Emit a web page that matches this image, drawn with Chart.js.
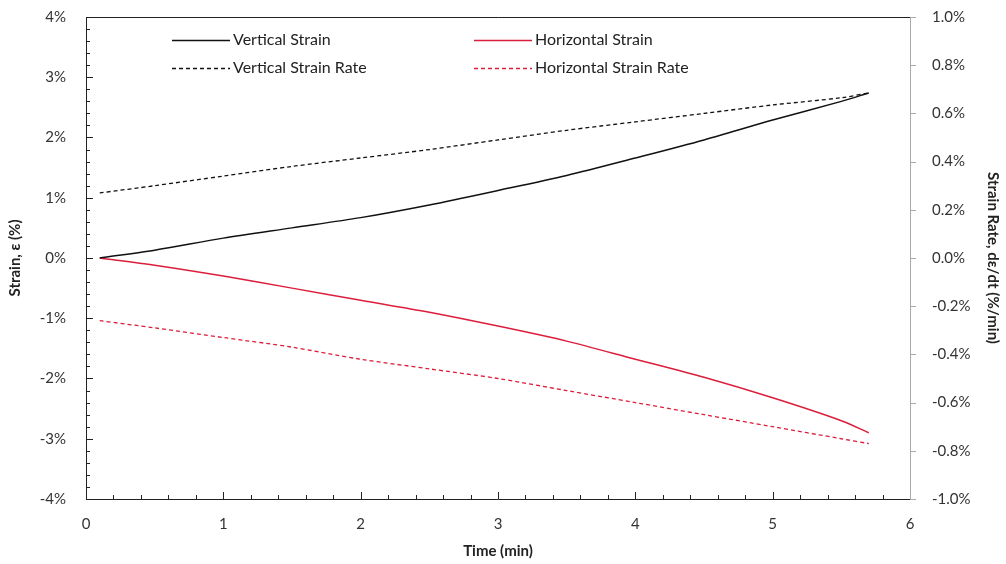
<!DOCTYPE html>
<html>
<head>
<meta charset="utf-8">
<script src="https://cdn.jsdelivr.net/npm/chart.js@4"></script>
<style>
  html, body { margin: 0; padding: 0; background: #fff; }
  #wrap { width: 1006px; height: 564px; }
</style>
</head>
<body>
<div id="wrap"><canvas id="strainChart" width="1006" height="564"></canvas></div>
<script>
// données
const timeMin = [0.1, 0.5, 1, 1.5, 2, 2.5, 3, 3.5, 4, 4.5, 5, 5.5, 5.7];
const verticalStrain = [0, 0.13, 0.33, 0.5, 0.67, 0.88, 1.12, 1.37, 1.66, 1.96, 2.29, 2.6, 2.74];
const horizontalStrain = [0, -0.12, -0.3, -0.5, -0.7, -0.9, -1.13, -1.38, -1.68, -1.98, -2.32, -2.7, -2.9];
const verticalRate = [0.27, 0.30, 0.34, 0.38, 0.415, 0.45, 0.49, 0.53, 0.565, 0.60, 0.635, 0.665, 0.685];
const horizontalRate = [-0.26, -0.29, -0.33, -0.37, -0.42, -0.46, -0.50, -0.55, -0.60, -0.65, -0.70, -0.75, -0.77];
const leftTicks = [-4, -3, -2, -1, 0, 1, 2, 3, 4];
const rightTicks = [-1.0, -0.8, -0.6, -0.4, -0.2, 0.0, 0.2, 0.4, 0.6, 0.8, 1.0];
const timeTicks = [0, 1, 2, 3, 4, 5, 6];

const RED = '#dc1e3c';
const FONT = 'Lato, "Liberation Sans", sans-serif';

const toPoints = (vals) => timeMin.map((t, i) => ({ x: t, y: vals[i] }));

// Cadre, graduations internes et légende dans la zone du graphique
const framePlugin = {
    id: 'frame',
    afterDraw(chart) {
        const ctx = chart.ctx;
        const a = chart.chartArea;
        const x = chart.scales.x, y = chart.scales.y, y2 = chart.scales.y2;
        ctx.save();
        ctx.lineWidth = 1;
        // graduations mineures et majeures (axe gauche, vers l'intérieur)
        ctx.strokeStyle = '#222';
        ctx.beginPath();
        for (let v = -4; v <= 4.001; v += 0.2) {
            const py = Math.round(y.getPixelForValue(v)) + 0.5;
            const major = Math.abs(v - Math.round(v)) < 0.01;
            ctx.moveTo(a.left, py);
            ctx.lineTo(a.left + (major ? 7 : 4), py);
        }
        // axe du temps, graduations vers le haut
        for (let v = 0; v <= 6.001; v += 0.2) {
            const px = Math.round(x.getPixelForValue(v)) + 0.5;
            const major = Math.abs(v - Math.round(v)) < 0.01;
            ctx.moveTo(px, a.bottom);
            ctx.lineTo(px, a.bottom - (major ? 7 : 4));
        }
        ctx.stroke();
        // axe droit, graduations vers l'extérieur
        ctx.strokeStyle = '#aaa';
        ctx.beginPath();
        rightTicks.forEach(v => {
            const py = Math.round(y2.getPixelForValue(v)) + 0.5;
            ctx.moveTo(a.right, py);
            ctx.lineTo(a.right + 6, py);
        });
        ctx.stroke();
        // cadre
        ctx.strokeStyle = '#222';
        ctx.beginPath();
        ctx.moveTo(a.right, a.top + 0.5);
        ctx.lineTo(a.left + 0.5, a.top + 0.5);
        ctx.lineTo(a.left + 0.5, a.bottom + 0.5);
        ctx.lineTo(a.right, a.bottom + 0.5);
        ctx.stroke();
        ctx.strokeStyle = '#aaa';
        ctx.beginPath();
        ctx.moveTo(a.right + 0.5, a.top);
        ctx.lineTo(a.right + 0.5, a.bottom + 1);
        ctx.stroke();

        // légende en deux colonnes
        const spots = [[a.left + 86, a.top + 23], [a.left + 388, a.top + 23], [a.left + 86, a.top + 51], [a.left + 388, a.top + 51]];
        ctx.font = '16px ' + FONT;
        ctx.textBaseline = 'middle';
        ctx.fillStyle = '#222';
        chart.data.datasets.forEach((ds, i) => {
            const [lx, ly] = spots[i];
            ctx.strokeStyle = ds.borderColor;
            ctx.lineWidth = 1.4;
            ctx.setLineDash(ds.borderDash || []);
            ctx.beginPath();
            ctx.moveTo(lx, ly + 0.5);
            ctx.lineTo(lx + 58, ly + 0.5);
            ctx.stroke();
            ctx.setLineDash([]);
            ctx.fillText(ds.label, lx + 61, ly);
        });
        ctx.restore();
    }
};

const ctx1 = document.getElementById('strainChart').getContext('2d');
const strainChart = new Chart(ctx1, {
    type: 'line',
    data: {
        datasets: [
            { label: 'Vertical Strain', data: toPoints(verticalStrain), yAxisID: 'y', borderColor: '#111', borderWidth: 1.5 },
            { label: 'Horizontal Strain', data: toPoints(horizontalStrain), yAxisID: 'y', borderColor: RED, borderWidth: 1.5 },
            { label: 'Vertical Strain Rate', data: toPoints(verticalRate), yAxisID: 'y2', borderColor: '#111', borderWidth: 1.3, borderDash: [4, 3] },
            { label: 'Horizontal Strain Rate', data: toPoints(horizontalRate), yAxisID: 'y2', borderColor: RED, borderWidth: 1.3, borderDash: [4, 3] }
        ]
    },
    options: {
        responsive: false,
        animation: false,
        layout: { padding: { top: 17, left: 0, right: 0, bottom: 0 } },
        elements: { point: { radius: 0 }, line: { tension: 0.3 } },
        plugins: { legend: { display: false }, tooltip: { enabled: false } },
        scales: {
            x: {
                type: 'linear', min: 0, max: 6,
                afterBuildTicks: (s) => { s.ticks = timeTicks.map(v => ({ value: v })); },
                afterFit: (s) => { s.height = 65; s.paddingLeft = 0; s.paddingRight = 0; },
                grid: { display: false },
                border: { display: false },
                ticks: { color: '#333', font: { family: FONT, size: 15 }, padding: 8 },
                title: { display: true, text: 'Time (min)', color: '#222', font: { family: FONT, size: 15, weight: 'bold' }, padding: { top: 0 } }
            },
            y: {
                position: 'left', min: -4, max: 4,
                afterBuildTicks: (s) => { s.ticks = leftTicks.map(v => ({ value: v })); },
                afterFit: (s) => { s.width = 86; s.paddingTop = 0; s.paddingBottom = 0; },
                grid: { display: false },
                border: { display: false },
                ticks: { color: '#333', font: { family: FONT, size: 15 }, padding: 12, callback: v => v + '%' },
                title: { display: true, text: 'Strain, ε (%)', color: '#222', font: { family: FONT, size: 15, weight: 'bold' }, padding: { top: 6, bottom: 2 } }
            },
            y2: {
                position: 'right', min: -1, max: 1,
                afterBuildTicks: (s) => { s.ticks = rightTicks.map(v => ({ value: v })); },
                afterFit: (s) => { s.width = 96; s.paddingTop = 0; s.paddingBottom = 0; },
                grid: { display: false },
                border: { display: false },
                ticks: { color: '#333', font: { family: FONT, size: 15 }, padding: 14, callback: v => v.toFixed(1) + '%' },
                title: { display: true, text: 'Strain Rate, dε/dt (%/min)', color: '#222', font: { family: FONT, size: 15, weight: 'bold' }, padding: { top: 4, bottom: 6 } }
            }
        }
    },
    plugins: [framePlugin]
});
</script>
</body>
</html>
